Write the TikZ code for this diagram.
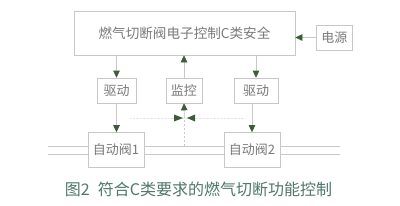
\documentclass[tikz,border=0pt]{standalone}
\usepackage{fontspec}
\newfontfamily\cjk{Noto Sans CJK SC}
\usetikzlibrary{arrows.meta}
\definecolor{boxline}{HTML}{C8C8C8}
\definecolor{boxtext}{HTML}{7A7A7A}
\definecolor{arrowgreen}{HTML}{3E5C3A}
\definecolor{captiongreen}{HTML}{4E7868}
\tikzset{
  blk/.style={draw=boxline, line width=0.6pt, text=boxtext, font=\cjk\fontsize{13}{13}\selectfont, inner sep=0pt},
  pipe/.style={draw=boxline, line width=0.6pt},
  conn/.style={draw=boxline, line width=0.6pt, -{Triangle[length=7pt,width=6.5pt,color=arrowgreen]}},
  tipg/.style={fill=arrowgreen, draw=none},
}
\begin{document}
\begin{tikzpicture}[x=1pt,y=-1pt]
\useasboundingbox (0,0) rectangle (400,206);
\fill[white] (0,0) rectangle (400,206);
% top box
\node[blk, minimum width=221pt, minimum height=44pt, font=\cjk\fontsize{13.6}{13.6}\selectfont] (ctrl) at (184.5,33) {燃气切断阀电子控制C类安全};
\node[blk, minimum width=36pt, minimum height=25pt, anchor=west] (pwr) at (316,37.5) {电源};
% middle boxes
\node[blk, minimum width=39pt, minimum height=25pt] (d1) at (116.5,90.5) {驱动};
\node[blk, minimum width=36pt, minimum height=25pt] (mon) at (184,90.5) {监控};
\node[blk, minimum width=44pt, minimum height=25pt] (d2) at (256,90.5) {驱动};
% valves
\node[blk, minimum width=56pt, minimum height=35pt] (v1) at (116,150) {自动阀1};
\node[blk, minimum width=56pt, minimum height=35pt] (v2) at (252,150) {自动阀2};
% pipes
\foreach \yy in {146,154}{
  \draw[pipe] (48,\yy) -- (v1.west |- 0,\yy);
  \draw[pipe] (v1.east |- 0,\yy) -- (v2.west |- 0,\yy);
  \draw[pipe] (v2.east |- 0,\yy) -- (340,\yy);
}
% connectors
\draw[conn] (pwr.west) -- (ctrl.east |- pwr.west);
\draw[conn] (ctrl.south -| d1) -- (d1.north);
\draw[conn] (ctrl.south -| d2) -- (d2.north);
\draw[conn] (mon.north) -- (ctrl.south -| mon);
\draw[conn] (d1.south) -- (v1.north -| d1);
\draw[conn] (d2.south -| 252,0) -- (v2.north);
% monitoring feedback
\coordinate (mj) at (184.5,118);
\draw[boxline!45, line width=0.4pt, densely dotted] (130,118) -- (245,118);
\draw[boxline, line width=0.6pt, dash pattern=on 2pt off 2pt] (184.5,146) -- (mj);
\draw[conn] (mj) -- (mon.south);
\fill[tipg] (183,118) -- (174,114.5) -- (174,121.5) -- cycle;
\fill[tipg] (187,118) -- (195,114.5) -- (195,121.5) -- cycle;
% caption
\node[text=captiongreen, font=\cjk\fontsize{16}{16}\selectfont, anchor=center] (cap) at (198.5,189) {图2\hspace{0.5em}符合C类要求的燃气切断功能控制};
\end{tikzpicture}
\end{document}
